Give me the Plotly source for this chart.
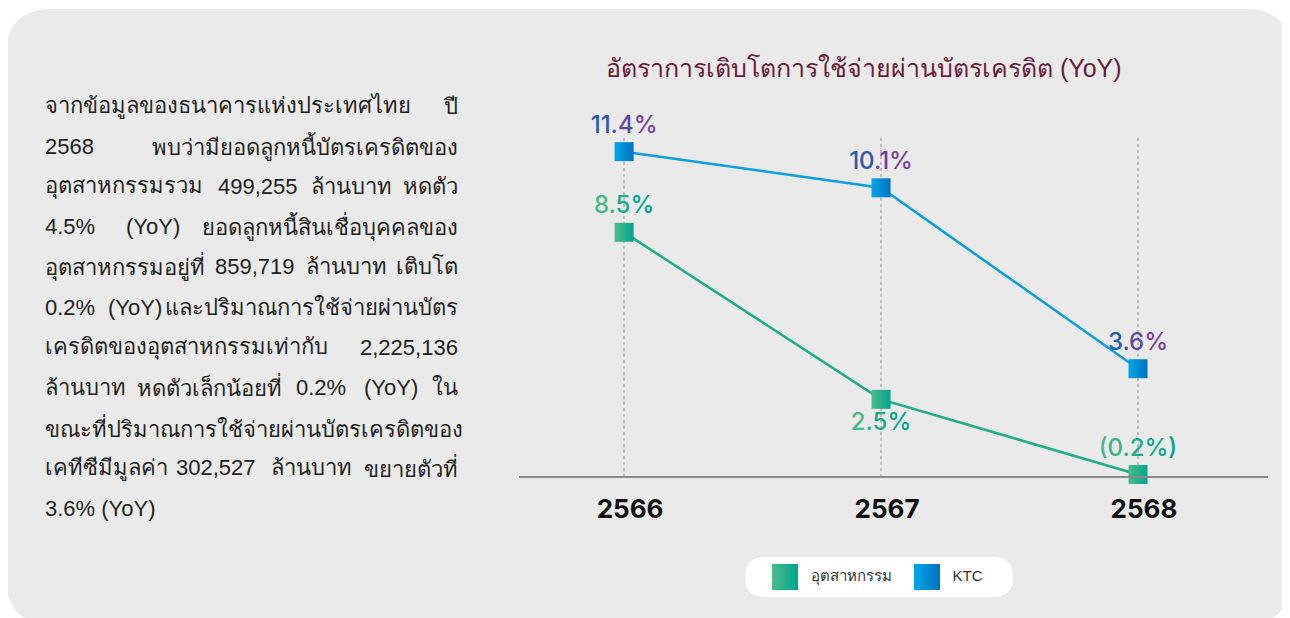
import plotly.graph_objects as go

# ---------------- data ----------------
years = ["2566", "2567", "2568"]
industry = [8.5, 2.5, -0.2]
ktc = [11.4, 10.1, 3.6]
series_names = ["อุตสาหกรรม", "KTC"]
title_text = "อัตราการเติบโตการใช้จ่ายผ่านบัตรเครดิต (YoY)"
paragraph_lines = [
    "จากข้อมูลของธนาคารแห่งประเทศไทย ปี",
    "2568 พบว่ามียอดลูกหนี้บัตรเครดิตของ",
    "อุตสาหกรรมรวม 499,255 ล้านบาท หดตัว",
    "4.5% (YoY) ยอดลูกหนี้สินเชื่อบุคคลของ",
    "อุตสาหกรรมอยู่ที่ 859,719 ล้านบาท เติบโต",
    "0.2% (YoY) และปริมาณการใช้จ่ายผ่านบัตร",
    "เครดิตของอุตสาหกรรมเท่ากับ 2,225,136",
    "ล้านบาท หดตัวเล็กน้อยที่ 0.2% (YoY) ใน",
    "ขณะที่ปริมาณการใช้จ่ายผ่านบัตรเครดิตของ",
    "เคทีซีมีมูลค่า 302,527 ล้านบาท ขยายตัวที่",
    "3.6% (YoY)",
]

W, H = 1290, 618
OFF = 8  # page body margin in the screenshot


def px(x):
    return (x - OFF) / W


def py(y):
    return 1 - (y - OFF) / H


L, R, T, B = 519, 1268, 138, 477  # plot area in screen pixels


def hex2rgb(h):
    h = h.lstrip("#")
    return tuple(int(h[i:i + 2], 16) for i in (0, 2, 4))


def grad_text(s, c1, c2):
    a, b = hex2rgb(c1), hex2rgb(c2)
    n = max(len(s) - 1, 1)
    out = []
    for i, ch in enumerate(s):
        t = i / n
        c = tuple(round(a[k] + (b[k] - a[k]) * t) for k in range(3))
        out.append('<span style="color:rgb(%d,%d,%d)">%s</span>' % (c + (ch,)))
    return "".join(out)


def fmt(v):
    return ("(%.1f%%)" % abs(v)) if v < 0 else ("%.1f%%" % v)


IND_C = ("#4CBB8C", "#00A58E")
KTC_C = ("#00A6E8", "#0070C0")
ind_text = [grad_text(fmt(v), "#45BA8C", "#00A58E") for v in industry]
ktc_text = [grad_text(fmt(v), "#1F5FB0", "#7B3F9F") for v in ktc]
LABEL_FONT = dict(family="Inter, sans-serif", size=24, weight=500)

fig = go.Figure()
fig.add_trace(go.Scatter(
    x=years, y=industry, mode="lines+markers+text", name=series_names[0],
    line=dict(color="#1EAE8A", width=2.5),
    marker=dict(symbol="square", size=19, color=IND_C[0],
                gradient=dict(type="horizontal", color=IND_C[1])),
    text=ind_text, textposition=["top center", "bottom center", "top center"],
    textfont=LABEL_FONT, showlegend=False, cliponaxis=False,
))
fig.add_trace(go.Scatter(
    x=years, y=ktc, mode="lines+markers+text", name=series_names[1],
    line=dict(color="#0A9FE3", width=2.5),
    marker=dict(symbol="square", size=19, color=KTC_C[0],
                gradient=dict(type="horizontal", color=KTC_C[1])),
    text=ktc_text, textposition="top center",
    textfont=LABEL_FONT, showlegend=False, cliponaxis=False,
))
# custom legend (own small axis pair)
fig.add_trace(go.Scatter(
    x=series_names, y=[0, 0], xaxis="x2", yaxis="y2", mode="markers+text",
    marker=dict(symbol="square", size=26, color=[IND_C[0], KTC_C[0]],
                gradient=dict(type="horizontal", color=[IND_C[1], KTC_C[1]])),
    text=["\u00a0\u00a0" + n for n in series_names], textposition="middle right",
    textfont=dict(family="Liberation Sans, sans-serif", size=15, color="#333333"),
    showlegend=False, cliponaxis=False, hoverinfo="skip",
))


def rounded_rect(x0, y0, x1, y1, r):
    pts = [
        ("M", x0 + r, y0), ("L", x1 - r, y0), ("Q", x1, y0, x1, y0 + r),
        ("L", x1, y1 - r), ("Q", x1, y1, x1 - r, y1), ("L", x0 + r, y1),
        ("Q", x0, y1, x0, y1 - r), ("L", x0, y0 + r), ("Q", x0, y0, x0 + r, y0),
    ]
    parts = []
    for p in pts:
        coords = p[1:]
        s = ["%.5f,%.5f" % (px(coords[i]), py(coords[i + 1])) for i in range(0, len(coords), 2)]
        parts.append(p[0] + " " + " ".join(s))
    return " ".join(parts) + " Z"


shapes = [
    dict(type="path", xref="paper", yref="paper", layer="below",
         path=rounded_rect(6, 9, 1291, 624, 46), fillcolor="#EAEAEA", line=dict(width=0)),
    dict(type="path", xref="paper", yref="paper", layer="below",
         path=rounded_rect(745, 557, 1013, 597, 20), fillcolor="#FFFFFF", line=dict(width=0)),
    dict(type="line", xref="paper", yref="paper", x0=px(L), x1=px(R), y0=py(B), y1=py(B),
         line=dict(color="#8A8A8A", width=2)),
]

annotations = [
    dict(text=title_text, xref="paper", yref="paper", x=px(864), y=py(68),
         xanchor="center", yanchor="middle", showarrow=False,
         font=dict(family="Liberation Sans, sans-serif", size=25, color="#6A1A3A")),
]

# ---- justified paragraph (word placement from estimated glyph widths) ----
PFS = 22
COMB = set(chr(c) for c in [0x0E31] + list(range(0x0E34, 0x0E3B)) + list(range(0x0E47, 0x0E4F)))
NARROW = {"เ": 0.45, "ใ": 0.45, "ไ": 0.45, "โ": 0.45, "ะ": 0.55, "า": 0.55, "แ": 0.65}
LAT = {",": 0.278, ".": 0.278, "%": 0.889, "(": 0.333, ")": 0.333, "Y": 0.667, "o": 0.556}


def est_width(word):
    w = 0.0
    for ch in word:
        if ch in COMB:
            continue
        if ch in NARROW:
            w += NARROW[ch]
        elif ch in LAT:
            w += LAT[ch]
        elif ch.isdigit() and ord(ch) < 128:
            w += 0.556
        else:
            w += 0.60
    return w * PFS


TXT_L, TXT_R = 45, 458
PFONT = dict(family="Liberation Sans, sans-serif", size=PFS, color="#222222")
for i, line in enumerate(paragraph_lines):
    y = py(106 + i * 40.2)
    words = line.split(" ")
    last = i == len(paragraph_lines) - 1
    if last or len(words) == 1:
        annotations.append(dict(text=line, xref="paper", yref="paper", x=px(TXT_L - 2), y=y,
                                xanchor="left", yanchor="middle", showarrow=False, font=PFONT))
        continue
    widths = [est_width(w) for w in words]
    gap = (TXT_R - TXT_L - sum(widths)) / (len(words) - 1)
    xpos = TXT_L
    for j, (wd, ww) in enumerate(zip(words, widths)):
        if j == 0:
            ann = dict(x=px(TXT_L - 2), xanchor="left")
        elif j == len(words) - 1:
            ann = dict(x=px(TXT_R + 2), xanchor="right")
        else:
            ann = dict(x=px(xpos + ww / 2), xanchor="center")
        ann.update(text=wd, xref="paper", yref="paper", y=y, yanchor="middle",
                   showarrow=False, font=PFONT)
        annotations.append(ann)
        xpos += ww + gap

fig.update_layout(
    width=W, height=H,
    margin=dict(l=0, r=0, t=0, b=0, pad=0),
    paper_bgcolor="#FFFFFF", plot_bgcolor="rgba(0,0,0,0)",
    shapes=shapes, annotations=annotations, showlegend=False,
    xaxis=dict(type="category", domain=[px(L), px(R)], range=[-0.409, 2.506],
               showgrid=True, gridcolor="#BDBDBD", griddash="dot", gridwidth=2,
               showline=False, zeroline=False, ticks="",
               tickfont=dict(family="Inter, sans-serif", size=26, color="#111111", weight="bold"),
               ticklabelstandoff=14, ticklabelshift=6),
    yaxis=dict(domain=[py(B), py(T)], range=[-0.29, 11.89], showgrid=False, zeroline=False,
               showticklabels=False, showline=False),
    xaxis2=dict(type="category", domain=[px(745), px(1013)], range=[-0.282, 1.606],
                anchor="y2", visible=False),
    yaxis2=dict(domain=[py(597), py(557)], range=[-1, 1], anchor="x2", visible=False),
)

fig.write_html("out.html")
